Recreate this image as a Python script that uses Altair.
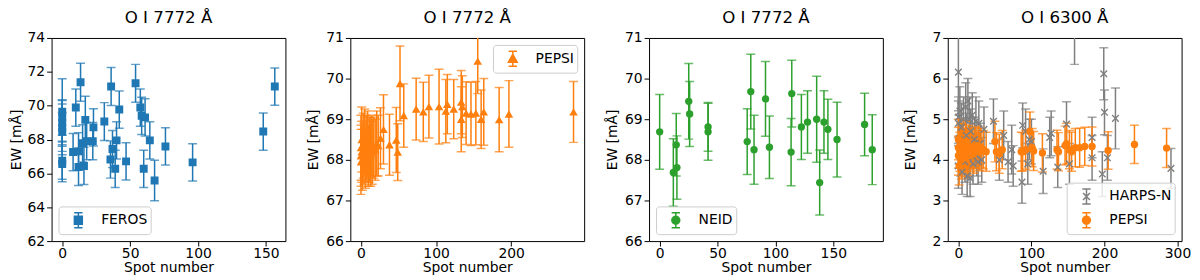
import altair as alt
import pandas as pd

# ---------------- data ----------------
feros_x = [0, 0, 0, 0, 0, 0, 0, 8, 10, 12, 12, 13.5, 15, 16, 17, 18, 22.5, 23,
           31, 35.5, 36, 37, 39, 40, 42, 47, 54, 57.5, 58.5, 60, 61, 64.5, 68,
           76, 96, 148, 156.5]
feros_y = [69.64, 69.3, 69.0, 68.7, 68.45, 66.75, 66.55, 67.26, 69.89, 67.3,
           66.38, 71.38, 67.78, 66.44, 69.16, 67.9, 67.9, 68.72, 69.06, 66.82,
           71.13, 67.44, 66.27, 67.95, 69.77, 66.71, 71.32, 69.89, 69.4, 66.27,
           69.31, 67.95, 65.58, 67.59, 66.65, 68.47, 71.13]
feros_err = [1.95, 1.05, 1.1, 1.6, 1.15, 1.1, 1.05, 1.1, 1.1, 1.1, 1.1, 1.12,
             1.1, 1.1, 1.4, 1.1, 1.1, 1.1, 1.12, 1.1, 1.12, 1.1, 1.1, 1.1,
             1.1, 1.1, 1.12, 1.1, 1.1, 1.1, 1.1, 1.1, 1.2, 1.1, 1.1, 1.1, 1.1]

pepsi7_x = [0, 0, 0, 1, 1, 2, 3, 4, 5, 6, 7, 8, 9, 10, 11, 12, 13, 14, 15, 17,
            19, 21, 23, 26, 30, 38, 47, 49, 52, 57, 73.5, 83, 90.5, 104, 113,
            115, 123.5, 133.5, 135, 133.5, 140, 146.5, 153, 155.5, 160, 163.5,
            184, 197, 283]
pepsi7_y = [68.3, 68.1, 67.95, 68.5, 68.2, 68.0, 68.35, 68.15, 68.45, 68.05,
            68.3, 68.2, 68.4, 68.1, 68.25, 68.3, 68.15, 68.35, 68.2, 68.3,
            68.25, 68.4, 68.35, 68.53, 68.75, 68.37, 68.49, 68.19, 69.88,
            69.09, 69.25, 69.18, 69.31, 69.31, 69.2, 69.37, 69.25, 69.42,
            69.31, 69.0, 69.15, 69.13, 69.15, 70.43, 69.0, 69.18, 68.99,
            69.13, 69.18]
pepsi7_err = [0.8, 0.75, 0.8, 0.8, 0.75, 0.75, 0.8, 0.75, 0.8, 0.75, 0.8,
              0.75, 0.8, 0.75, 0.8, 0.75, 0.8, 0.75, 0.8, 0.75, 0.75, 0.8,
              0.75, 0.75, 0.85, 0.75, 0.8, 0.7, 0.92, 0.78, 0.76, 0.73, 0.77,
              0.92, 0.78, 0.73, 0.73, 0.78, 0.76, 0.8, 0.77, 0.78, 0.78, 0.8,
              0.72, 0.82, 0.79, 0.82, 0.75]

neid_x = [0, 11.8, 14.3, 14.9, 25.1, 25.9, 41.8, 41.8, 75.6, 78.7, 81.5, 91.4,
          94.8, 113.5, 114.1, 122.4, 127.7, 135.6, 138.2, 141.9, 145.3, 153.2,
          177, 183.6]
neid_y = [68.69, 67.69, 68.37, 67.81, 69.44, 69.13, 68.81, 68.69, 68.45, 69.68,
          68.25, 69.5, 68.31, 68.19, 69.63, 68.81, 68.93, 69.0, 67.44, 68.93,
          68.75, 68.5, 68.87, 68.25]
neid_err = [0.92, 0.83, 0.77, 0.78, 0.93, 0.8, 0.6, 0.7, 0.81, 0.92, 0.85,
            0.92, 0.77, 0.83, 0.82, 0.8, 0.77, 1.06, 0.8, 0.77, 0.74, 0.92,
            0.77, 0.86]

harps_x = [0, 0, 0, 0, 1, 2, 3, 4, 5, 6, 7, 8, 9, 10, 11, 12, 13, 14, 15, 16,
           17, 18, 19, 20, 22, 24, 25, 27, 28, 30, 32, 35, 48, 56, 62, 68, 73,
           75, 87, 88, 92, 95, 97, 100, 116, 125, 127, 136, 148, 152, 159,
           183, 183, 197, 199, 200, 204, 215, 291]
harps_y = [6.16, 5.05, 4.9, 3.85, 4.5, 5.2, 4.1, 4.8, 3.7, 4.4, 5.0, 4.2, 3.95,
           5.3, 4.6, 3.6, 5.45, 4.05, 5.0, 3.55, 4.7, 4.3, 5.1, 3.9, 4.5, 4.95,
           4.1, 3.95, 4.9, 4.4, 4.0, 4.75, 4.95, 4.0, 4.6, 3.95, 4.25, 3.85,
           3.45, 4.85, 4.7, 3.9, 4.5, 4.45, 3.72, 4.55, 4.65, 3.82, 4.88, 3.9,
           7.15, 4.55, 4.05, 3.65, 6.12, 5.17, 4.05, 5.02, 3.79]
harps_err = [0.95, 0.5, 0.55, 0.55, 0.6, 0.6, 0.5, 0.6, 0.55, 0.5, 0.55, 0.55,
             0.5, 0.6, 0.55, 0.5, 0.55, 0.5, 0.55, 0.45, 0.55, 0.5, 0.55, 0.5,
             0.55, 0.6, 0.5, 0.55, 0.55, 0.5, 0.55, 0.55, 0.55, 0.5, 0.6, 0.5,
             0.6, 0.5, 0.52, 0.55, 0.55, 0.5, 0.5, 0.55, 0.55, 0.5, 0.55, 0.5,
             0.55, 0.5, 0.8, 0.5, 0.55, 0.55, 0.64, 0.55, 0.55, 0.75, 0.49]

pepsi6_x = [0, 0, 0, 1, 2, 3, 4, 5, 6, 7, 8, 9, 10, 11, 12, 13, 14, 15, 17, 19,
            21, 23, 25, 27, 29, 31, 34, 38, 50, 52, 56, 60, 86, 88, 92, 98,
            101, 103, 115, 135, 137, 146, 148, 152, 155, 160, 166, 173, 183,
            205, 241, 285]
pepsi6_y = [4.3, 4.1, 4.5, 3.85, 4.2, 4.4, 4.0, 4.25, 4.35, 4.15, 4.3, 4.05,
            4.45, 4.2, 4.3, 4.1, 4.35, 4.25, 4.2, 4.3, 4.15, 4.3, 4.25, 4.35,
            4.2, 4.3, 4.25, 4.2, 4.45, 4.2, 4.15, 4.25, 4.2, 4.2, 4.25, 4.7,
            4.3, 4.22, 4.17, 4.25, 4.2, 4.35, 4.4, 4.25, 4.2, 4.3, 4.3, 4.33,
            4.33, 4.23, 4.38, 4.29]
pepsi6_err = [0.5, 0.48, 0.5, 0.47, 0.48, 0.5, 0.47, 0.48, 0.5, 0.47, 0.48,
              0.47, 0.5, 0.48, 0.47, 0.48, 0.5, 0.47, 0.48, 0.47, 0.48, 0.5,
              0.47, 0.48, 0.47, 0.48, 0.47, 0.48, 0.5, 0.47, 0.48, 0.47, 0.48,
              0.47, 0.48, 0.48, 0.47, 0.48, 0.47, 0.48, 0.47, 0.48, 0.5, 0.47,
              0.48, 0.47, 0.48, 0.47, 0.48, 0.46, 0.47, 0.48]

BLUE, ORANGE, GREEN, GRAY = "#1f77b4", "#ff7f0e", "#2ca02c", "#7f7f7f"
FONT = "DejaVu Sans"

# legend symbols: marker + error bar with caps (unit coordinates)
ERRBAR = " M0,-0.75V0.75 M-0.42,-0.75H0.42 M-0.42,0.75H0.42"
SQ_LEG = "M-0.4,-0.4H0.4V0.4H-0.4Z" + ERRBAR
TRI_LEG = "M0,-0.45L0.45,0.35H-0.45Z" + ERRBAR
CIR_LEG = "M0.4,0A0.4,0.4,0,1,1,-0.4,0A0.4,0.4,0,1,1,0.4,0Z" + ERRBAR
X_LEG = "M-0.35,-0.35L0.35,0.35M-0.35,0.35L0.35,-0.35" + ERRBAR
X_MARK = "M-1,-1L1,1M-1,1L1,-1"

PW, PH = 236, 205


def frame(xs, ys, es, inst):
    return pd.DataFrame({
        "x": xs, "y": ys,
        "lo": [a - b for a, b in zip(ys, es)],
        "hi": [a + b for a, b in zip(ys, es)],
        "inst": inst,
    })


def panel(series, title, xticks, ydom, yticks, orient, ytpad=5.5):
    allx = [v for s in series for v in s["df"]["x"]]
    lo, hi = min(allx), max(allx)
    m = 0.05 * (hi - lo)
    xsc = alt.Scale(domain=[lo - m, hi + m], nice=False, zero=False)
    ysc = alt.Scale(domain=ydom, nice=False, zero=False)
    xax = alt.Axis(values=xticks, title="Spot number", format="d",
                   labelOverlap=False)
    yax = alt.Axis(values=yticks, title="EW [mÅ]", format="d",
                   titlePadding=ytpad, labelOverlap=False)

    def X():
        return alt.X("x:Q", scale=xsc, axis=xax)

    layers = []
    for s in series:
        base = alt.Chart(s["df"])
        c = s["color"]
        layers.append(base.mark_rule(clip=True, strokeWidth=1.5, color=c).encode(
            x=X(), y=alt.Y("lo:Q", scale=ysc, axis=yax), y2="hi:Q"))
        for f in ("lo", "hi"):
            layers.append(base.mark_tick(clip=True, orient="horizontal", size=9,
                                         thickness=1.5, color=c).encode(
                x=X(), y=alt.Y(f + ":Q", scale=ysc, axis=yax)))
    for s in series:
        base = alt.Chart(s["df"])
        c = s["color"]
        if s["filled"]:
            mk = base.mark_point(clip=True, filled=True, shape=s["shape"],
                                 size=s["size"], color=c, opacity=1)
        else:
            mk = base.mark_point(clip=True, filled=False, shape=s["shape"],
                                 size=s["size"], color=c, opacity=1,
                                 strokeWidth=1.4)
        layers.append(mk.encode(x=X(), y=alt.Y("y:Q", scale=ysc, axis=yax)))

    names = [s["df"]["inst"].iloc[0] for s in series]
    colors = [s["color"] for s in series]
    paths = [s["leg"] for s in series]
    leg = alt.Legend(title=None, orient=orient, offset=7, padding=3,
                     symbolSize=400, symbolStrokeWidth=1.5, symbolOffset=6,
                     labelFont=FONT, labelFontSize=14, labelColor="black",
                     labelOffset=12, rowPadding=2,
                     fillColor="rgba(255,255,255,0.8)", strokeColor="#cccccc",
                     cornerRadius=3)
    csc = alt.Scale(domain=names, range=colors)
    ssc = alt.Scale(domain=names, range=paths)
    dfall = pd.concat([s["df"] for s in series])
    legend_layer = alt.Chart(dfall).transform_filter("false").mark_point(
        filled=True, opacity=1).encode(
        x=X(), y=alt.Y("y:Q", scale=ysc, axis=yax),
        fill=alt.Fill("inst:N", scale=csc, legend=leg),
        stroke=alt.Stroke("inst:N", scale=csc, legend=leg),
        shape=alt.Shape("inst:N", scale=ssc, legend=leg),
    )
    layers.append(legend_layer)
    return alt.layer(*layers).properties(
        width=PW, height=PH, title=alt.TitleParams(title))


p1 = panel([dict(df=frame(feros_x, feros_y, feros_err, "FEROS"), color=BLUE,
                 shape="square", size=64, filled=True, leg=SQ_LEG)],
           "O I 7772 Å", [0, 50, 100, 150], [62, 74],
           [62, 64, 66, 68, 70, 72, 74], "bottom-left", ytpad=4)
p2 = panel([dict(df=frame(pepsi7_x, pepsi7_y, pepsi7_err, "PEPSI"),
                 color=ORANGE, shape="triangle-up", size=75, filled=True,
                 leg=TRI_LEG)],
           "O I 7772 Å", [0, 100, 200], [66, 71], [66, 67, 68, 69, 70, 71],
           "top-right")
p3 = panel([dict(df=frame(neid_x, neid_y, neid_err, "NEID"), color=GREEN,
                 shape="circle", size=55, filled=True, leg=CIR_LEG)],
           "O I 7772 Å", [0, 50, 100, 150], [66, 71], [66, 67, 68, 69, 70, 71],
           "bottom-left")
p4 = panel([dict(df=frame(harps_x, harps_y, harps_err, "HARPS-N"), color=GRAY,
                 shape=X_MARK, size=45, filled=False, leg=X_LEG),
            dict(df=frame(pepsi6_x, pepsi6_y, pepsi6_err, "PEPSI"),
                 color=ORANGE, shape="circle", size=55, filled=True,
                 leg=CIR_LEG)],
           "O I 6300 Å", [0, 100, 200, 300], [2, 7], [2, 3, 4, 5, 6, 7],
           "bottom-right", ytpad=14.4)

chart = alt.hconcat(p1, p2, p3, p4, spacing=19.5).resolve_scale(
    x="independent", y="independent", fill="independent",
    stroke="independent", shape="independent"
).resolve_legend(fill="independent", stroke="independent",
                 shape="independent").properties(
    padding={"left": 0, "right": 0, "top": 0, "bottom": 0}
).configure_axis(
    labelFont=FONT, titleFont=FONT, labelFontSize=14, titleFontSize=14,
    titleFontWeight="normal", labelColor="black", titleColor="black",
    tickColor="black", tickSize=5, tickWidth=1, grid=False, domain=False,
    labelFlush=False, labelPadding=2
).configure_axisX(labelPadding=1, titlePadding=0).configure_axisY(
    titlePadding=5.5
).configure_title(
    font=FONT, fontSize=16.8, fontWeight="normal", color="black",
    anchor="middle", offset=0
).configure_view(stroke="black", strokeWidth=1)

chart.save("out.html", embed_options={"renderer": "svg", "actions": False})
